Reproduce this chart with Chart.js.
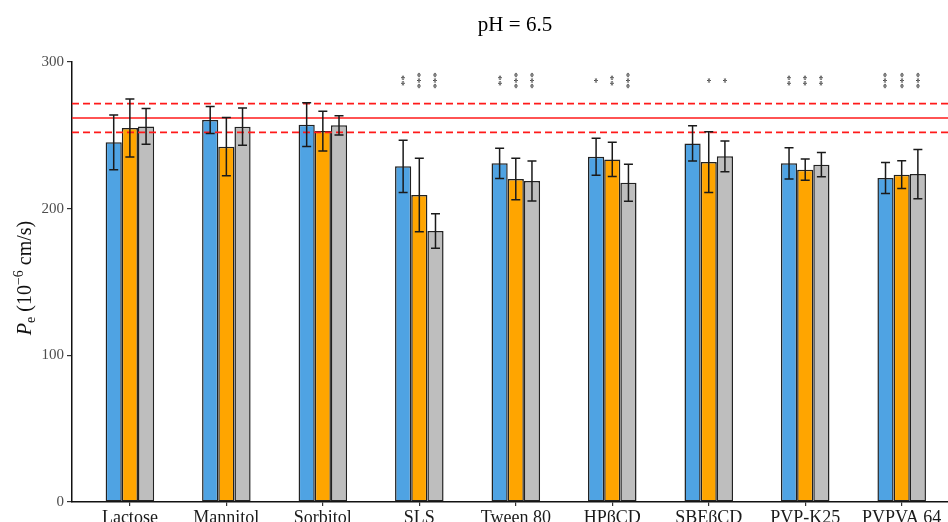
<!DOCTYPE html>
<html>
<head>
<meta charset="utf-8">
<script src="https://cdn.jsdelivr.net/npm/chart.js@4.4.0/dist/chart.umd.min.js"></script>
<style>
  html, body { margin: 0; padding: 0; background: #fff; }
</style>
</head>
<body>
<canvas id="chart" width="948" height="522"></canvas>
<script>
// Dades del gràfic
const categories = ["Lactose", "Mannitol", "Sorbitol", "SLS", "Tween 80", "HPβCD", "SBEβCD", "PVP-K25", "PVPVA 64"];
const blueValues = [245.2, 260.5, 257.3, 228.9, 230.9, 235.4, 244.5, 230.9, 220.9];
const blueErrors = [18.7, 9.2, 14.9, 17.8, 10.3, 12.6, 12.0, 10.6, 10.6];
const orangeValues = [255.0, 242.3, 252.9, 209.3, 220.2, 233.6, 231.8, 226.6, 223.2];
const orangeErrors = [19.7, 19.8, 13.6, 25.0, 14.1, 11.6, 20.7, 7.2, 9.5];
const greyValues = [256.1, 255.9, 256.8, 184.8, 218.9, 217.7, 235.7, 230.0, 223.6];
const greyErrors = [12.2, 12.7, 6.5, 11.8, 13.6, 12.6, 10.5, 8.3, 16.8];
const blueStars = ["", "", "", "**", "**", "*", "", "**", "***"];
const orangeStars = ["", "", "", "***", "***", "**", "*", "**", "***"];
const greyStars = ["", "", "", "***", "***", "***", "*", "**", "***"];
const yTicks = [0, 100, 200, 300];
const controlMean = 261.8;
const controlSd = 9.8;
const starLevel = 287.4;

const SERIF = "'Liberation Serif', 'DejaVu Serif', serif";

const barSets = [
    { values: blueValues, errors: blueErrors, stars: blueStars, color: "#4fa3e3" },
    { values: orangeValues, errors: orangeErrors, stars: orangeStars, color: "#ffa500" },
    { values: greyValues, errors: greyErrors, stars: greyStars, color: "#bebebe" },
];

// Línies de control (mitjana ± desviació)
const xMin = 0.4, xMax = 9.48;
function hLine(value, dashed) {
    return {
        type: "line",
        data: [{ x: xMin, y: value }, { x: xMax, y: value }],
        borderColor: "#ff1a1a",
        borderWidth: 1.6,
        borderDash: dashed ? [7, 4] : [],
        pointRadius: 0,
        order: -1,
    };
}

// Barres d'error i asteriscs
const extras = {
    id: "extras",
    afterDatasetsDraw(chart) {
        const ctx = chart.ctx;
        const y = chart.scales.y;
        ctx.save();
        ctx.strokeStyle = "#1a1a1a";
        ctx.lineWidth = 1.5;
        barSets.forEach((set, d) => {
            const meta = chart.getDatasetMeta(d);
            meta.data.forEach((bar, i) => {
                const top = y.getPixelForValue(set.values[i] + set.errors[i]);
                const bot = y.getPixelForValue(set.values[i] - set.errors[i]);
                ctx.beginPath();
                ctx.moveTo(bar.x, top); ctx.lineTo(bar.x, bot);
                ctx.moveTo(bar.x - 4.5, top); ctx.lineTo(bar.x + 4.5, top);
                ctx.moveTo(bar.x - 4.5, bot); ctx.lineTo(bar.x + 4.5, bot);
                ctx.stroke();

                if (set.stars[i]) {
                    ctx.save();
                    ctx.translate(bar.x, y.getPixelForValue(starLevel));
                    ctx.rotate(-Math.PI / 2);
                    ctx.fillStyle = "#333";
                    ctx.font = "11px " + SERIF;
                    ctx.textAlign = "center";
                    ctx.textBaseline = "middle";
                    ctx.fillText(set.stars[i], 0, 2);
                    ctx.restore();
                }
            });
        });
        ctx.restore();
    },
    afterDraw(chart) {
        const ctx = chart.ctx;
        ctx.save();
        // títol
        ctx.fillStyle = "#000";
        ctx.font = "21px " + SERIF;
        ctx.textAlign = "center";
        ctx.textBaseline = "alphabetic";
        ctx.fillText("pH = 6.5", 515, 31);

        // etiqueta de l'eix Y amb subíndex i superíndex
        const parts = [
            { t: "P", f: "italic 20px " + SERIF, dy: 0 },
            { t: "e", f: "14px " + SERIF, dy: 4 },
            { t: " (10", f: "20px " + SERIF, dy: 0 },
            { t: "−6", f: "14px " + SERIF, dy: -8 },
            { t: " cm/s)", f: "20px " + SERIF, dy: 0 },
        ];
        let total = 0;
        parts.forEach(p => { ctx.font = p.f; p.w = ctx.measureText(p.t).width; total += p.w; });
        ctx.translate(31, 278);
        ctx.rotate(-Math.PI / 2);
        ctx.fillStyle = "#111";
        ctx.textAlign = "left";
        let x = -total / 2;
        parts.forEach(p => {
            ctx.font = p.f;
            ctx.fillText(p.t, x, p.dy);
            x += p.w;
        });
        ctx.restore();
    },
};

const datasets = barSets.map(set => ({
    type: "bar",
    data: set.values.map((v, i) => ({ x: i + 1, y: v })),
    backgroundColor: set.color,
    borderColor: "#222",
    borderWidth: 1.5,
    borderSkipped: false,
    categoryPercentage: 0.503,
    barPercentage: 1,
}));
datasets.push(hLine(controlMean, false));
datasets.push(hLine(controlMean + controlSd, true));
datasets.push(hLine(controlMean - controlSd, true));

new Chart(document.getElementById("chart"), {
    type: "bar",
    data: { datasets: datasets },
    options: {
        responsive: false,
        animation: false,
        devicePixelRatio: 1,
        layout: { padding: { top: 62, right: 0, bottom: 0, left: 0 } },
        plugins: {
            legend: { display: false },
            tooltip: { enabled: false },
        },
        scales: {
            x: {
                type: "linear",
                min: xMin,
                max: xMax,
                offset: false,
                afterBuildTicks: s => { s.ticks = categories.map((c, i) => ({ value: i + 1 })); },
                afterFit: s => { s.height = 20; },
                grid: { offset: false, drawOnChartArea: false, drawTicks: true, tickLength: 4, color: "#333", lineWidth: 1.2 },
                border: { color: "#111", width: 1.5 },
                ticks: {
                    callback: v => categories[Math.round(v) - 1],
                    font: { family: SERIF, size: 18 },
                    color: "#1a1a1a",
                    padding: 1,
                    maxRotation: 0,
                    autoSkip: false,
                },
            },
            y: {
                min: 0,
                max: 300,
                afterBuildTicks: s => { s.ticks = yTicks.map(v => ({ value: v })); },
                afterFit: s => { s.width = 72; },
                grid: { drawOnChartArea: false, drawTicks: true, tickLength: 5, color: "#333", lineWidth: 1.2 },
                border: { color: "#111", width: 1.5 },
                ticks: {
                    font: { family: SERIF, size: 15 },
                    color: "#4d4d4d",
                    padding: 3,
                },
            },
        },
    },
    plugins: [extras],
});
</script>
</body>
</html>
